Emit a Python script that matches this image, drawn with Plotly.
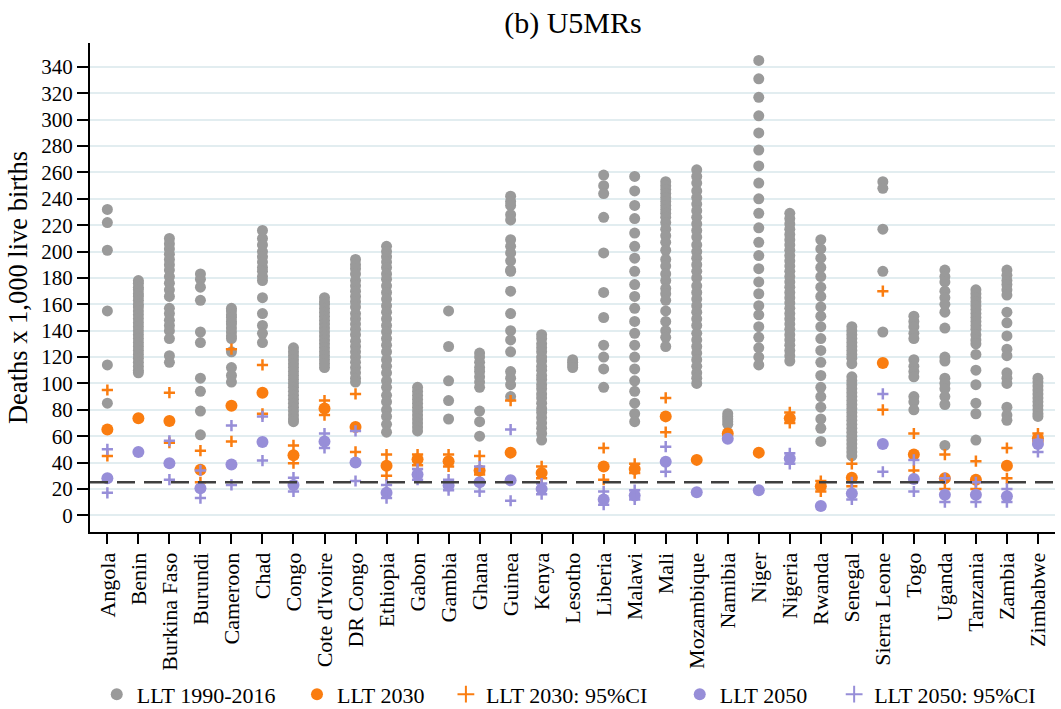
import plotly.graph_objects as go

countries = ["Angola", "Benin", "Burkina Faso", "Burundi", "Cameroon", "Chad", "Congo",
             "Cote d'Ivoire", "DR Congo", "Ethiopia", "Gabon", "Gambia", "Ghana", "Guinea",
             "Kenya", "Lesotho", "Liberia", "Malawi", "Mali", "Mozambique", "Namibia",
             "Niger", "Nigeria", "Rwanda", "Senegal", "Sierra Leone", "Togo", "Uganda",
             "Tanzania", "Zambia", "Zimbabwe"]

llt_1990_2016 = [
    [232, 222, 201, 155, 114, 85],
    [178, 176, 173, 171, 168, 166, 163, 160, 158, 155, 152, 149, 146, 143, 140, 137, 134, 131, 128, 125, 122, 119, 116, 113, 110, 108],
    [210, 206, 202, 198, 194, 190, 186, 181, 176, 171, 166, 157, 153, 148, 144, 140, 134, 121, 116],
    [183, 179, 173, 163, 139, 131, 104, 94, 79, 61],
    [157, 155, 152, 150, 147, 145, 142, 139, 136, 134, 124, 112, 106, 101],
    [216, 210, 205, 200, 196, 192, 188, 185, 181, 178, 165, 153, 144, 138, 131],
    [127, 124, 121, 118, 115, 112, 109, 106, 103, 100, 97, 94, 91, 88, 85, 82, 79, 76, 73, 71],
    [165, 162, 160, 157, 154, 151, 148, 145, 142, 139, 136, 133, 130, 127, 124, 121, 118, 115, 112],
    [194, 190, 187, 183, 178, 174, 170, 166, 162, 158, 153, 149, 145, 141, 137, 132, 128, 124, 120, 116, 112, 108, 104, 101],
    [204, 200, 196, 192, 188, 183, 179, 174, 169, 164, 159, 154, 149, 144, 139, 134, 129, 124, 118, 113, 108, 102, 97, 91, 86, 80, 75, 69, 63],
    [97, 94, 91, 88, 85, 82, 79, 76, 73, 70, 67, 64],
    [155, 128, 102, 87, 73],
    [123, 120, 116, 112, 109, 105, 101, 97, 79, 71, 60],
    [242, 238, 235, 228, 224, 209, 204, 199, 193, 186, 185, 170, 153, 140, 133, 124, 109, 104, 99, 90],
    [137, 134, 130, 127, 124, 120, 117, 113, 110, 106, 103, 99, 96, 92, 89, 85, 81, 78, 74, 70, 66, 62, 57],
    [118, 116, 114, 112],
    [258, 250, 244, 226, 199, 169, 150, 129, 120, 111, 97],
    [257, 246, 235, 225, 214, 204, 195, 185, 175, 166, 157, 147, 138, 129, 120, 111, 102, 94, 85, 77, 71],
    [253, 250, 247, 244, 241, 238, 235, 232, 229, 226, 222, 217, 212, 207, 201, 194, 189, 183, 178, 172, 168, 163, 155, 147, 140, 135, 128],
    [262, 257, 252, 246, 241, 236, 231, 226, 221, 216, 211, 205, 200, 195, 190, 185, 180, 174, 169, 164, 159, 154, 149, 144, 138, 133, 128, 123, 118, 113, 108, 104, 100],
    [77, 75, 73, 71, 69],
    [345, 331, 317, 303, 290, 277, 265, 252, 240, 229, 218, 207, 197, 187, 177, 168, 159, 152, 143, 135, 127, 120, 114],
    [229, 225, 221, 217, 213, 209, 205, 201, 197, 193, 189, 185, 181, 177, 173, 169, 165, 161, 157, 153, 149, 145, 141, 137, 133, 129, 125, 121, 117],
    [209, 202, 195, 188, 181, 173, 166, 158, 151, 143, 134, 125, 116, 106, 97, 90, 82, 73, 66, 56],
    [143, 140, 137, 134, 131, 128, 125, 122, 119, 115, 105, 102, 99, 96, 93, 90, 87, 84, 81, 78, 75, 72, 69, 66, 63, 60, 57, 54, 51, 48, 45],
    [253, 248, 217, 185, 139],
    [151, 147, 143, 138, 134, 118, 113, 109, 105, 90, 86, 80],
    [186, 181, 177, 170, 165, 160, 154, 142, 120, 117, 104, 100, 96, 90, 84, 53],
    [171, 168, 165, 162, 159, 156, 153, 150, 147, 144, 141, 137, 133, 130, 122, 110, 99, 85, 77, 57],
    [186, 182, 178, 175, 171, 167, 154, 146, 136, 126, 121, 108, 104, 100, 82, 76, 72],
    [104, 101, 98, 95, 92, 89, 86, 83, 80, 77, 75],
]

llt_2030 = [65, 73.5, 71.5, 34.5, 83, 93, 45.5, 81, 67, 37.5, 42.5, 41, 34, 47.5, 32, None,
            37, 35, 75, 42, 62, 47.5, 73.5, 22, 28.5, 115.5, 46, 28, 27, 37.5, 58.5]
llt_2030_hi = [95, None, 93, 49, 126, 114, 53, 87, 92, 46, 46, 46, 45, 87, 37, None,
               51, 39, 89, None, None, None, 78, 26, 39, 170, 62, 46, 41, 51, 62]
llt_2030_lo = [45, None, 55, 25, 56, 77, 39.5, 76, 48, 30, 38, 37, 31, None, 28, None,
               27, 32, 63, None, None, None, 70, 18, 22, 80, 34, 20, 20, 28, 56]
llt_2050 = [28, 48, 39.5, 20.5, 38.5, 55.5, 23, 56, 40, 17, 31, 22.5, 25, 26.5, 20, None,
            12, 15, 40.5, 17.5, 58, 19, 43, 7, 16.5, 54, 27.5, 15.5, 15.5, 14.5, 54]
llt_2050_hi = [50, None, 56.5, 34, 68, 75, 28.5, 62, 64, 23, 35, 27, 37, 65, 24, None,
               18, 19, 52, None, None, None, 47, None, 25, 92, 42, 28, 25, 20, 57]
llt_2050_lo = [17, None, 27, 13, 23, 41.5, 18, 51, 26, 13, 27, 19, 18, 11, 16, None,
               8, 12, 33, None, None, None, 39, None, 12, 33, 18, 10, 10, 10, 48]

target = 25
yticks = list(range(0, 341, 20))

GRAY = "#9a9a9a"
ORANGE = "#fa7d10"
PURPLE = "#978ed8"
FONT = "Liberation Serif, Times New Roman, serif"
NB = "\u00a0"

gx, gy = [], []
for i, vals in enumerate(llt_1990_2016):
    for v in vals:
        gx.append(i)
        gy.append(v)

idx = list(range(len(countries)))
ci_x = idx + idx

fig = go.Figure()
fig.add_trace(go.Scatter(x=gx, y=gy, mode="markers", name="LLT 1990-2016" + NB * 3,
                         marker=dict(color=GRAY, size=11, line=dict(width=0))))
fig.add_trace(go.Scatter(x=idx, y=llt_2030, mode="markers", name="LLT 2030" + NB * 3,
                         marker=dict(color=ORANGE, size=12, line=dict(width=0))))
fig.add_trace(go.Scatter(x=ci_x, y=llt_2030_hi + llt_2030_lo, mode="markers", name="LLT 2030: 95%CI" + NB * 5,
                         marker=dict(color=ORANGE, symbol="cross-thin", size=8,
                                     line=dict(color=ORANGE, width=2.5))))
fig.add_trace(go.Scatter(x=idx, y=llt_2050, mode="markers", name="LLT 2050" + NB * 4,
                         marker=dict(color=PURPLE, size=12, line=dict(width=0))))
fig.add_trace(go.Scatter(x=ci_x, y=llt_2050_hi + llt_2050_lo, mode="markers", name="LLT 2050: 95%CI",
                         marker=dict(color=PURPLE, symbol="cross-thin", size=8,
                                     line=dict(color=PURPLE, width=2.5))))

fig.add_shape(type="line", xref="paper", yref="y", x0=0, x1=1, y0=target, y1=target,
              line=dict(color="#3f3f3f", width=2.5, dash="18px,9px"), layer="above")

fig.update_layout(
    width=1061, height=709,
    margin=dict(l=90, r=6, t=43, b=177, autoexpand=False),
    paper_bgcolor="white", plot_bgcolor="white",
    font=dict(family=FONT, size=21, color="black"),
    title=dict(text="(b) U5MRs", x=0.54, xanchor="center", y=0.968, yanchor="middle",
               font=dict(family=FONT, size=30, color="black")),
    showlegend=True,
    legend=dict(orientation="h", x=0.007, xanchor="left", y=-0.332, yanchor="middle",
                font=dict(family=FONT, size=22), itemsizing="constant",
                bgcolor="rgba(0,0,0,0)", tracegroupgap=0),
    xaxis=dict(range=[-0.56, 30.55], tickmode="array", tickvals=idx, ticktext=countries,
               tickangle=-90, ticks="outside", ticklen=10, tickwidth=1.5, tickcolor="black",
               showline=True, linecolor="black", linewidth=2, showgrid=False, zeroline=False,
               automargin=False, tickfont=dict(family=FONT, size=22)),
    yaxis=dict(range=[-12.7, 358.2], tickmode="array", tickvals=yticks,
               ticks="outside", ticklen=11, tickwidth=1.5, tickcolor="black",
               showline=True, linecolor="black", linewidth=2,
               showgrid=True, gridcolor="#e2edf0", gridwidth=1.5, zeroline=False,
               automargin=False, tickfont=dict(family=FONT, size=21),
               title=dict(text="Deaths x 1,000 live births", font=dict(family=FONT, size=26.5),
                          standoff=6)),
)

fig.write_html("out.html", config={"displayModeBar": False},
               post_script="document.body.style.margin='0';document.body.style.padding='0';")
